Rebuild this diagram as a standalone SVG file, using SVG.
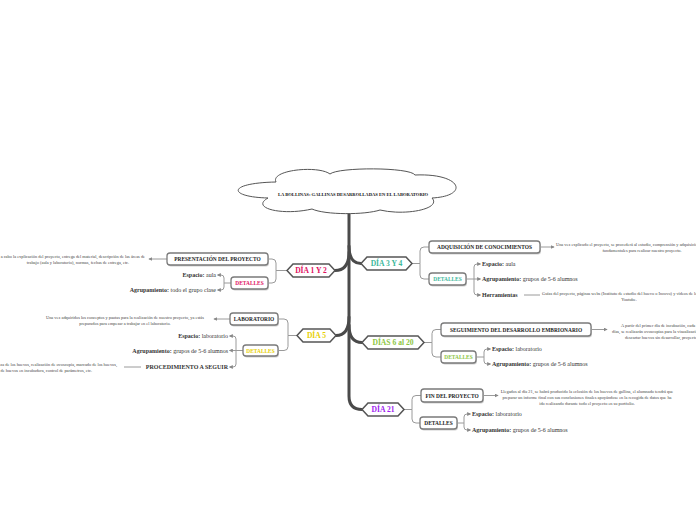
<svg xmlns="http://www.w3.org/2000/svg" width="696" height="520" viewBox="0 0 696 520">
<style>
.bg{fill:#ffffff}
.trunk{fill:none;stroke:#4a4a4a;stroke-width:3;stroke-linecap:round}
.link{fill:none;stroke:#9a9a9a;stroke-width:1}
.hex{fill:#ffffff;stroke:#555555;stroke-width:1.5}
.box{fill:#ffffff;stroke:#7a7a7a;stroke-width:1.3}
.shadow{fill:#cfcfcf}
.cloud{fill:#ffffff;stroke:#555555;stroke-width:1}
.title{font-family:"Liberation Serif",serif;font-weight:bold;font-size:4.6px;fill:#111;text-anchor:middle}
.hext{font-family:"Liberation Serif",serif;font-weight:bold;font-size:7.6px;text-anchor:middle}
.bt{font-family:"Liberation Serif",serif;font-weight:bold;font-size:5.4px;fill:#222;text-anchor:middle}
.dt{font-family:"Liberation Serif",serif;font-size:6px;fill:#333}
.dt tspan.b{font-weight:bold}
.para{font-family:"Liberation Serif",serif;font-size:4.35px;fill:#444}
</style>
<defs>
<marker id="arr" viewBox="0 0 6 6" refX="5" refY="3" markerWidth="4" markerHeight="4" markerUnits="userSpaceOnUse" orient="auto">
<path d="M0,0 L6,3 L0,6 z" fill="#888"/>
</marker>
</defs>
<rect class="bg" x="0" y="0" width="696" height="520"/>

<g id="connectors">
<path class="trunk" d="M349,212 V396 Q349,409.5 362,409.5"/>
<path class="trunk" d="M349,252 Q349,270.5 335,270.5"/>
<path class="trunk" d="M349,317 Q349,335.5 336,335.5"/>
<path class="trunk" d="M349,246 Q349,263.5 361,263.5"/>
<path class="trunk" d="M349,325 Q349,342.5 362,342.5"/>
<path class="link" d="M287,270.5 H276 M276,270.5 V263 Q276,259 272,259 H268 M276,270.5 V279 Q276,283 272,283 H268"/>
<path class="link" d="M167,259 H149" marker-end="url(#arr)"/>
<path class="link" d="M231,283 H224 M224,283 V278 Q224,275 221,275 H218 M224,283 V287 Q224,290 221,290 H218"/>
<path class="link" d="M221,275 H217.5" marker-end="url(#arr)"/>
<path class="link" d="M221,290 H217.5" marker-end="url(#arr)"/>
<path class="link" d="M297,335.5 H288 M288,335.5 V323 Q288,319 284,319 H278 M288,335.5 V346.5 Q288,350.5 284,350.5 H278"/>
<path class="link" d="M230,319 H214" marker-end="url(#arr)"/>
<path class="link" d="M243,350.5 H236 M236,350.5 V339 Q236,336 233,336 H230 M236,350.5 V364 Q236,367 233,367 H230 M236,350.5 H230"/>
<path class="link" d="M233,336 H229.5" marker-end="url(#arr)"/>
<path class="link" d="M233,350.5 H229.5" marker-end="url(#arr)"/>
<path class="link" d="M233,367 H229.5" marker-end="url(#arr)"/>
<path class="link" d="M141,367 H124"/>
<path class="link" d="M412,263.5 H420 M420,263.5 V251 Q420,247 424,247 H429 M420,263.5 V275 Q420,279 424,279 H429"/>
<path class="link" d="M540,247 H554" marker-end="url(#arr)"/>
<path class="link" d="M466,279 H474 M474,279 V267 Q474,264 477,264 H480 M474,279 V292 Q474,295 477,295 H480 M474,279 H480"/>
<path class="link" d="M477,264 H480.5" marker-end="url(#arr)"/>
<path class="link" d="M477,279 H480.5" marker-end="url(#arr)"/>
<path class="link" d="M477,295 H480.5" marker-end="url(#arr)"/>
<path class="link" d="M524,295 H540"/>
<path class="link" d="M424,342.5 H432 M432,342.5 V333.5 Q432,329.5 436,329.5 H441 M432,342.5 V353 Q432,357 436,357 H441"/>
<path class="link" d="M591,329.5 H607" marker-end="url(#arr)"/>
<path class="link" d="M476,357 H484 M484,357 V352 Q484,349 487,349 H490 M484,357 V361 Q484,364 487,364 H490"/>
<path class="link" d="M487,349 H490.5" marker-end="url(#arr)"/>
<path class="link" d="M487,364 H490.5" marker-end="url(#arr)"/>
<path class="link" d="M404,409.5 H412 M412,409.5 V399.5 Q412,395.5 416,395.5 H421 M412,409.5 V419 Q412,423 416,423 H420"/>
<path class="link" d="M483,395.5 H498" marker-end="url(#arr)"/>
<path class="link" d="M457,423 H464 M464,423 V417 Q464,414 467,414 H470 M464,423 V427 Q464,430 467,430 H470"/>
<path class="link" d="M467,414 H470.5" marker-end="url(#arr)"/>
<path class="link" d="M467,430 H470.5" marker-end="url(#arr)"/>
</g>

<g id="central">
<path class="cloud" d="M268,198 C228,197 226,183 276,182 C270,170 318,165 330,174 C338,167 410,167 415,175 C462,173 470,196 432,198 C442,209 405,216 380,210 C365,215 325,215 312,209 C282,216 250,208 268,198 Z"/>
<text class="title" x="353" y="196">LA BOLLINAS: GALLINAS DESARROLLADAS EN EL LABORATORIO</text>
</g>

<g id="dia12">
<polygon class="hex" points="287,270.5 293,264 329,264 335,270.5 329,277 293,277"/>
<text class="hext" x="311" y="273.4" fill="#e0115f">DÍA 1 Y 2</text>
</g>
<g id="presentacion">
<rect class="shadow" x="168" y="254.5" width="101" height="12" rx="3"/>
<rect class="box" x="167" y="253" width="101" height="12" rx="3"/>
<text class="bt" x="217.5" y="261">PRESENTACIÓN DEL PROYECTO</text>
<text class="para" x="145" y="257.5" text-anchor="end">Se llevará a cabo la explicación del proyecto, entrega del material, descripción de las áreas de</text>
<text class="para" x="78" y="263.5" text-anchor="middle">trabajo (aula y laboratorio), normas, fechas de entrega, etc.</text>
</g>
<g id="detalles12">
<rect class="shadow" x="232" y="278.5" width="37" height="12" rx="3"/>
<rect class="box" x="231" y="277" width="37" height="12" rx="3"/>
<text class="bt" x="249.5" y="285" style="fill:#e0115f">DETALLES</text>
<text class="dt" x="216" y="277" text-anchor="end"><tspan class="b">Espacio:</tspan> aula</text>
<text class="dt" x="216" y="292" text-anchor="end"><tspan class="b">Agrupamiento:</tspan> todo el grupo clase</text>
</g>

<g id="dia5">
<polygon class="hex" points="297,335.5 303,329 330,329 336,335.5 330,342 303,342"/>
<text class="hext" x="316.5" y="338.4" fill="#e8cf00">DÍA 5</text>
</g>
<g id="laboratorio">
<rect class="shadow" x="231" y="314.5" width="48" height="12" rx="3"/>
<rect class="box" x="230" y="313" width="48" height="12" rx="3"/>
<text class="bt" x="254" y="321">LABORATORIO</text>
<text class="para" x="125" y="318.5" text-anchor="middle">Una vez adquiridos los conceptos y pautas para la realización de nuestro proyecto, ya estás</text>
<text class="para" x="125" y="324.5" text-anchor="middle">preparados para empezar a trabajar en el laboratorio.</text>
</g>
<g id="detalles5">
<rect class="shadow" x="244" y="346.5" width="35" height="11" rx="3"/>
<rect class="box" x="243" y="345" width="35" height="11" rx="3"/>
<text class="bt" x="260.5" y="352.5" style="fill:#e8cf00">DETALLES</text>
<text class="dt" x="228" y="338" text-anchor="end"><tspan class="b">Espacio:</tspan> laboratorio</text>
<text class="dt" x="228" y="352.5" text-anchor="end"><tspan class="b">Agrupamiento:</tspan> grupos de 5-6 alumnos</text>
<text class="dt" x="228" y="369" text-anchor="end"><tspan class="b">PROCEDIMIENTO A SEGUIR</tspan></text>
<text class="para" x="117" y="365.5" text-anchor="end">Limpieza de los huevos, realización de ovoscopia, marcado de los huevos,</text>
<text class="para" x="92" y="371.5" text-anchor="end">colocación de huevos en incubadora, control de parámetros, etc.</text>
</g>

<g id="dia34">
<polygon class="hex" points="361,263.5 367,257 406,257 412,263.5 406,270 367,270"/>
<text class="hext" x="386.5" y="266.4" fill="#3db89b">DÍA 3 Y 4</text>
</g>
<g id="adquisicion">
<rect class="shadow" x="430" y="242.5" width="111" height="12" rx="3"/>
<rect class="box" x="429" y="241" width="111" height="12" rx="3"/>
<text class="bt" x="484.5" y="249">ADQUISICIÓN DE CONOCIMIENTOS</text>
<text class="para" x="556" y="245.5">Una vez explicado el proyecto, se procederá al estudio, comprensión y adquisición de conceptos</text>
<text class="para" x="642" y="251.5" text-anchor="middle">fundamentales para realizar nuestro proyecto.</text>
</g>
<g id="detalles34">
<rect class="shadow" x="430" y="274.5" width="37" height="12" rx="3"/>
<rect class="box" x="429" y="273" width="37" height="12" rx="3"/>
<text class="bt" x="447.5" y="281" style="fill:#3db89b">DETALLES</text>
<text class="dt" x="482" y="266"><tspan class="b">Espacio:</tspan> aula</text>
<text class="dt" x="482" y="281"><tspan class="b">Agrupamiento:</tspan> grupos de 5-6 alumnos</text>
<text class="dt" x="482" y="297"><tspan class="b">Herramientas</tspan></text>
<text class="para" x="542" y="294.5">Guías del proyecto, páginas webs (Instituto de estudio del huevo o Incovo) y vídeos de la</text>
<text class="para" x="629" y="300.5" text-anchor="middle">Youtube.</text>
</g>

<g id="dias620">
<polygon class="hex" points="362,342.5 368,336 418,336 424,342.5 418,349 368,349"/>
<text class="hext" x="393" y="345.4" fill="#8cc63f">DÍAS 6 al 20</text>
</g>
<g id="seguimiento">
<rect class="shadow" x="442" y="324.5" width="150" height="13" rx="3"/>
<rect class="box" x="441" y="323" width="150" height="13" rx="3"/>
<text class="bt" x="516" y="331.5">SEGUIMIENTO DEL DESARROLLO EMBRIONARIO</text>
<text class="para" x="621" y="326.5">A partir del primer día de incubación, cada día se registrarán los parámetros y cada dos</text>
<text class="para" x="612" y="332.5">días, se realizarán ovoscopias para la visualización del embrión y su desarrollo, para</text>
<text class="para" x="625" y="338.5">descartar huevos sin desarrollar, proyecto en su portfolio.</text>
</g>
<g id="detalles620">
<rect class="shadow" x="442" y="352.5" width="35" height="12" rx="3"/>
<rect class="box" x="441" y="351" width="35" height="12" rx="3"/>
<text class="bt" x="458.5" y="359" style="fill:#8cc63f">DETALLES</text>
<text class="dt" x="492" y="351"><tspan class="b">Espacio:</tspan> laboratorio</text>
<text class="dt" x="492" y="366"><tspan class="b">Agrupamiento:</tspan> grupos de 5-6 alumnos</text>
</g>

<g id="dia21">
<polygon class="hex" points="362,409.5 368,403 398,403 404,409.5 398,416 368,416"/>
<text class="hext" x="383" y="412.4" fill="#a01cf0">DÍA 21</text>
</g>
<g id="fin">
<rect class="shadow" x="422" y="390.5" width="62" height="13" rx="3"/>
<rect class="box" x="421" y="389" width="62" height="13" rx="3"/>
<text class="bt" x="452" y="397.5">FIN DEL PROYECTO</text>
<text class="para" x="587" y="392.5" text-anchor="middle">Llegados al día 21, se habrá producido la eclosión de los huevos de gallina, el alumnado tendrá que</text>
<text class="para" x="587" y="398.5" text-anchor="middle">preparar un informe final con sus conclusiones finales apoyándose en la recogida de datos que ha</text>
<text class="para" x="587" y="404.5" text-anchor="middle">ido realizando durante todo el proyecto en su portfolio.</text>
</g>
<g id="detalles21">
<rect class="shadow" x="421" y="418.5" width="37" height="12" rx="3"/>
<rect class="box" x="420" y="417" width="37" height="12" rx="3"/>
<text class="bt" x="438.5" y="425">DETALLES</text>
<text class="dt" x="472" y="416"><tspan class="b">Espacio:</tspan> laboratorio</text>
<text class="dt" x="472" y="432"><tspan class="b">Agrupamiento:</tspan> grupos de 5-6 alumnos</text>
</g>
</svg>
